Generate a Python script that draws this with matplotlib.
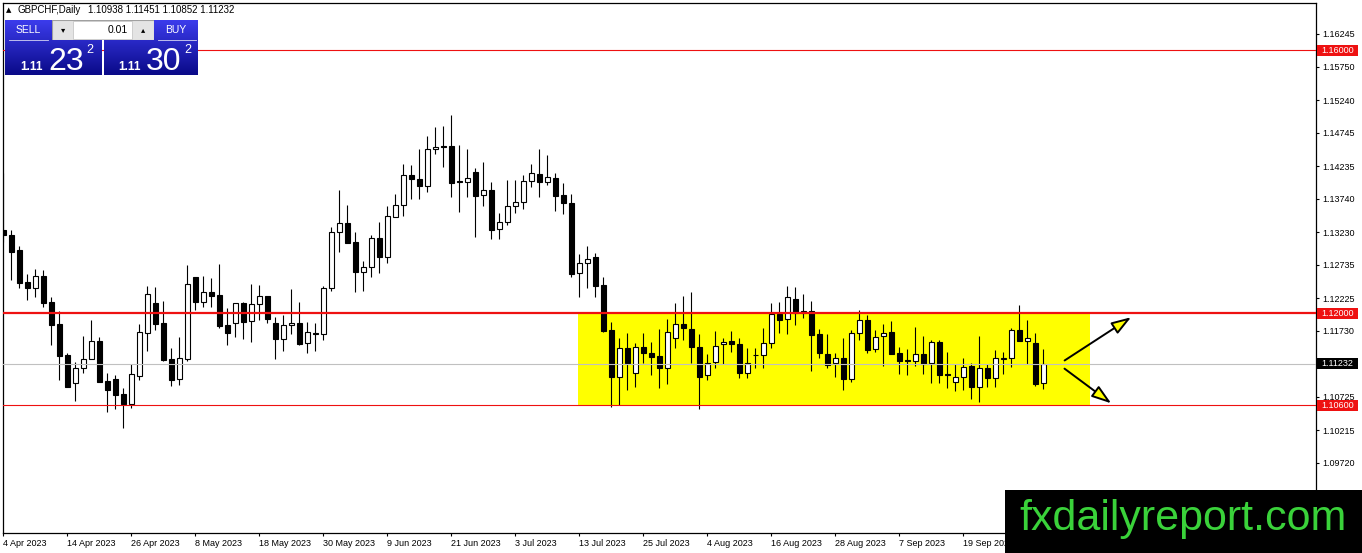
import matplotlib as mpl
mpl.use("agg")
import matplotlib.pyplot as plt
import matplotlib.patches as mpatches
import matplotlib.transforms as mtransforms
import numpy as np
import pandas as pd

W, H = 1362, 553

symbol = "GBPCHF,Daily"
first_day = "2023-04-04"

# daily candles, one per weekday from 4 Apr 2023
opens = [1.13264, 1.13188, 1.12960, 1.12473, 1.12382, 1.12564, 1.12169, 1.11834, 1.11362, 1.10937,
         1.11165, 1.11302, 1.11575, 1.10967, 1.10997, 1.10769, 1.10617, 1.11043, 1.11697, 1.12153,
         1.11849, 1.11302, 1.10997, 1.11302, 1.12549, 1.12169, 1.12321, 1.12275, 1.11819, 1.11849,
         1.12153, 1.11880, 1.12138, 1.12260, 1.11849, 1.11606, 1.11819, 1.11849, 1.11545, 1.11697,
         1.11682, 1.12382, 1.13233, 1.13370, 1.13081, 1.12625, 1.12701, 1.13142, 1.12853, 1.13461,
         1.13644, 1.14100, 1.14039, 1.13933, 1.14496, 1.14541, 1.14541, 1.14009, 1.13994, 1.14146,
         1.13796, 1.13872, 1.13279, 1.13385, 1.13629, 1.13690, 1.14009, 1.14115, 1.13994, 1.14055,
         1.13796, 1.13674, 1.12610, 1.12762, 1.12853, 1.12427, 1.11743, 1.11028, 1.11469, 1.11089,
         1.11484, 1.11393, 1.11347, 1.11165, 1.11621, 1.11834, 1.11758, 1.11484, 1.11058, 1.11256,
         1.11530, 1.11575, 1.11530, 1.11089, 1.11362, 1.11362, 1.11545, 1.11986, 1.11910, 1.12214,
         1.12001, 1.12032, 1.11682, 1.11378, 1.11241, 1.11317, 1.10997, 1.11697, 1.11895, 1.11454,
         1.11651, 1.11712, 1.11393, 1.11290, 1.11271, 1.11378, 1.11241, 1.11560, 1.11073, 1.10952,
         1.11028, 1.11195, 1.10876, 1.11165, 1.11013, 1.11302, 1.11317, 1.11743, 1.11575, 1.11545,
         1.10938]
highs = [1.14131, 1.13264, 1.13020, 1.12594, 1.12671, 1.12655, 1.12245, 1.12032, 1.11393, 1.11256,
         1.11651, 1.11895, 1.11636, 1.11089, 1.11058, 1.10861, 1.11226, 1.11834, 1.12412, 1.12397,
         1.12184, 1.11469, 1.11636, 1.12731, 1.12549, 1.12564, 1.12534, 1.12747, 1.12077, 1.12153,
         1.12169, 1.12442, 1.12427, 1.12260, 1.11940, 1.11971, 1.12366, 1.12169, 1.11864, 1.11849,
         1.12412, 1.13309, 1.13872, 1.13644, 1.13233, 1.12792, 1.13188, 1.13385, 1.13629, 1.13811,
         1.14268, 1.14252, 1.14496, 1.14693, 1.14830, 1.14846, 1.15013, 1.14557, 1.14496, 1.14207,
         1.14298, 1.13994, 1.13522, 1.14024, 1.14024, 1.14100, 1.14268, 1.14496, 1.14404, 1.14131,
         1.13979, 1.13811, 1.12899, 1.13020, 1.12914, 1.12549, 1.11864, 1.11621, 1.11697, 1.11545,
         1.11697, 1.11560, 1.11758, 1.11910, 1.12153, 1.12260, 1.12321, 1.11682, 1.11378, 1.11727,
         1.11621, 1.11727, 1.11621, 1.11469, 1.11469, 1.11773, 1.12153, 1.12169, 1.12412, 1.12397,
         1.12290, 1.12184, 1.11758, 1.11682, 1.11393, 1.11621, 1.11743, 1.12047, 1.11971, 1.11743,
         1.11834, 1.11880, 1.11484, 1.11454, 1.11788, 1.11651, 1.11591, 1.11591, 1.11408, 1.11226,
         1.11317, 1.11241, 1.11651, 1.11226, 1.11439, 1.11408, 1.11773, 1.12123, 1.11895, 1.11697,
         1.11451]
lows = [1.13081, 1.12503, 1.12382, 1.12199, 1.12245, 1.12093, 1.11515, 1.10982, 1.10876, 1.10663,
        1.11089, 1.11302, 1.10952, 1.10495, 1.10541, 1.10252, 1.10556, 1.10982, 1.11423, 1.11743,
        1.11271, 1.10891, 1.10906, 1.11271, 1.12047, 1.12093, 1.12093, 1.11773, 1.11515, 1.11636,
        1.11606, 1.11560, 1.11895, 1.11849, 1.11302, 1.11423, 1.11682, 1.11515, 1.11393, 1.11423,
        1.11591, 1.12336, 1.12929, 1.13066, 1.12321, 1.12336, 1.12549, 1.12610, 1.12762, 1.13461,
        1.13477, 1.13735, 1.13735, 1.13842, 1.14420, 1.14222, 1.13766, 1.13537, 1.13766, 1.13157,
        1.13629, 1.13127, 1.13127, 1.13340, 1.13522, 1.13583, 1.13918, 1.13766, 1.13948, 1.13553,
        1.13507, 1.12549, 1.12245, 1.12382, 1.12245, 1.11712, 1.10572, 1.10602, 1.10830, 1.10876,
        1.11241, 1.11058, 1.10861, 1.10921, 1.11469, 1.11591, 1.11241, 1.10541, 1.10982, 1.11165,
        1.11226, 1.11408, 1.11013, 1.11013, 1.11165, 1.11165, 1.11469, 1.11697, 1.11682, 1.11819,
        1.11925, 1.11119, 1.11317, 1.11165, 1.11028, 1.10830, 1.10952, 1.11591, 1.11393, 1.11408,
        1.11195, 1.11378, 1.11073, 1.11058, 1.11195, 1.11073, 1.10937, 1.10937, 1.10861, 1.10815,
        1.10830, 1.10693, 1.10648, 1.10876, 1.10876, 1.11073, 1.11180, 1.11575, 1.11226, 1.10891,
        1.10852]
closes = [1.13188, 1.12929, 1.12458, 1.12382, 1.12564, 1.12153, 1.11819, 1.11347, 1.10876, 1.11165,
          1.11302, 1.11575, 1.10952, 1.10830, 1.10754, 1.10617, 1.11073, 1.11712, 1.12290, 1.11834,
          1.11286, 1.10982, 1.11317, 1.12442, 1.12169, 1.12321, 1.12260, 1.11804, 1.11697, 1.12153,
          1.11864, 1.12138, 1.12260, 1.11910, 1.11606, 1.11819, 1.11849, 1.11530, 1.11712, 1.11682,
          1.12382, 1.13233, 1.13370, 1.13066, 1.12625, 1.12701, 1.13142, 1.12853, 1.13477, 1.13644,
          1.14100, 1.14039, 1.13933, 1.14496, 1.14526, 1.14526, 1.13979, 1.13994, 1.14055, 1.13781,
          1.13872, 1.13264, 1.13385, 1.13629, 1.13690, 1.14009, 1.14131, 1.13994, 1.14070, 1.13781,
          1.13674, 1.12594, 1.12762, 1.12823, 1.12412, 1.11727, 1.11028, 1.11469, 1.11241, 1.11484,
          1.11393, 1.11332, 1.11165, 1.11712, 1.11834, 1.11773, 1.11484, 1.11028, 1.11241, 1.11499,
          1.11560, 1.11530, 1.11089, 1.11241, 1.11360, 1.11545, 1.11986, 1.11895, 1.12245, 1.12001,
          1.12032, 1.11667, 1.11393, 1.11210, 1.11317, 1.10997, 1.11697, 1.11895, 1.11439, 1.11636,
          1.11697, 1.11378, 1.11271, 1.11275, 1.11378, 1.11226, 1.11560, 1.11058, 1.11058, 1.11028,
          1.11180, 1.10876, 1.11165, 1.11013, 1.11317, 1.11317, 1.11743, 1.11575, 1.11621, 1.10921,
          1.11232]

price_ticks = [1.16245, 1.15750, 1.15240, 1.14745, 1.14235, 1.13740, 1.13230, 1.12735,
               1.12225, 1.11730, 1.10725, 1.10215, 1.09720]
y_range = (1.08655, 1.16716)

upper_level = 1.16000
resistance = 1.12000
support = 1.10600
bid = 1.11232
zone_bars = (71.9, 135.9)          # bar index where the yellow box starts / ends
arrow_up = ((132.4, 1.11256), (141.3, 1.11960))
arrow_down = ((132.4, 1.11180), (138.8, 1.10602))

sell_price = ("1.11", "23", "2")
buy_price = ("1.11", "30", "2")
lot = "0.01"

RED = "#ee1111"
FONT = ["Liberation Sans", "DejaVu Sans"]


def fx(x):
    return x / W


def fy(y):
    return 1 - y / H


def gradient_box(fig, x0, y0, x1, y1, top, bottom):
    bax = fig.add_axes([fx(x0), fy(y1), fx(x1 - x0), (y1 - y0) / H])
    t = np.linspace(0, 1, 64)[:, None]
    c0, c1 = np.array(mpl.colors.to_rgb(top)), np.array(mpl.colors.to_rgb(bottom))
    img = c0[None, None, :] * (1 - t[:, :, None]) + c1[None, None, :] * t[:, :, None]
    bax.imshow(np.repeat(img, 4, axis=1), aspect="auto", interpolation="bilinear")
    bax.set_axis_off()
    return bax


def price_tag(ax, fig, value, face):
    blend = mtransforms.blended_transform_factory(fig.transFigure, ax.transData)
    per_px = (y_range[1] - y_range[0]) / 530.0
    h = 11 * per_px
    rect = mpatches.Rectangle((fx(1317), value - h / 2), fx(41), h, transform=blend,
                              facecolor=face, edgecolor="none", clip_on=False, zorder=20)
    ax.add_patch(rect)
    ax.text(fx(1337.5), value, "{:.5f}".format(value), transform=blend, ha="center",
            va="center", color="white", fontsize=6.5, family=FONT, clip_on=False, zorder=21)


def main():
    plt.rcParams["font.family"] = FONT
    n = len(closes)
    days = pd.bdate_range(first_day, periods=n)
    o, h, l, c = (np.array(v) for v in (opens, highs, lows, closes))
    idx = np.arange(n)

    fig = plt.figure(figsize=(W / 100, H / 100), dpi=100)
    fig.patch.set_facecolor("white")
    ax = fig.add_axes([fx(3), fy(533), fx(1313), 530 / H])
    ax.set_xlim(-0.05, 1313 / 8)
    ax.set_ylim(*y_range)

    # support/resistance zone
    ax.add_patch(mpatches.Rectangle((zone_bars[0], support), zone_bars[1] - zone_bars[0],
                                    resistance - support, facecolor="#ffff00",
                                    edgecolor="none", zorder=0))

    # candles
    up = c >= o
    ax.vlines(idx, l, h, color="black", linewidth=0.8, zorder=2)
    body_lo = np.minimum(o, c)
    body_h = np.abs(c - o)
    ax.bar(idx[up], body_h[up], bottom=body_lo[up], width=0.62, color="white",
           edgecolor="black", linewidth=0.8, zorder=3)
    ax.bar(idx[~up], body_h[~up], bottom=body_lo[~up], width=0.62, color="black",
           edgecolor="black", linewidth=0.8, zorder=3)

    # horizontal levels
    ax.axhline(bid, color="#c0c0c0", linewidth=0.8, zorder=4)
    ax.axhline(upper_level, color=RED, linewidth=0.8, zorder=4)
    ax.axhline(support, color=RED, linewidth=0.8, zorder=4)
    ax.axhline(resistance, color=RED, linewidth=1.6, zorder=4)

    # arrows
    for start, end in (arrow_up, arrow_down):
        arr = mpatches.FancyArrowPatch(start, end,
                                       arrowstyle="-|>,head_length=1.2,head_width=0.4",
                                       mutation_scale=10, facecolor="#ffff00",
                                       edgecolor="black", linewidth=1.4, zorder=6)
        ax.add_patch(arr)

    # axes
    for s in ax.spines.values():
        s.set_color("black")
        s.set_linewidth(0.9)
    ax.yaxis.tick_right()
    ax.set_yticks(price_ticks)
    ax.set_yticklabels(["{:.5f}".format(v) for v in price_ticks])
    ax.tick_params(axis="y", length=2.5, width=0.8, pad=2, labelsize=6.5, colors="black")
    ticks = list(range(0, n, 8))
    ax.set_xticks(ticks)
    ax.set_xticklabels(["{} {}".format(days[i].day, days[i].strftime("%b %Y")) for i in ticks],
                       ha="left")
    ax.tick_params(axis="x", length=2.5, width=0.8, pad=2, labelsize=6.5, colors="black")

    price_tag(ax, fig, upper_level, RED)
    price_tag(ax, fig, resistance, RED)
    price_tag(ax, fig, support, RED)
    price_tag(ax, fig, bid, "black")

    # header
    fig.text(fx(6), fy(10), "\u25b2", fontsize=5, family=["DejaVu Sans"], va="center")
    fig.text(fx(18), fy(10), symbol, fontsize=7, va="center")
    fig.text(fx(88), fy(10), "{:.5f} {:.5f} {:.5f} {:.5f}".format(opens[-1], highs[-1],
             lows[-1], closes[-1]), fontsize=7, va="center")

    # one click trading panel
    gradient_box(fig, 5, 20, 101, 75, "#3c3cec", "#0a0a88")
    gradient_box(fig, 104, 20, 198, 75, "#3c3cec", "#0a0a88")
    spin = fig.add_axes([fx(52), fy(40), fx(102), 20 / H])
    spin.set_xlim(52, 154)
    spin.set_ylim(40, 20)
    spin.add_patch(mpatches.Rectangle((52, 20), 102, 20, facecolor="#e4e4e4", edgecolor="#a0a0a0", lw=0.8))
    spin.add_patch(mpatches.Rectangle((73, 21), 59, 18, facecolor="white", edgecolor="#c8c8c8", lw=0.6))
    spin.text(63, 30, "\u25be", ha="center", va="center", fontsize=6, family=["DejaVu Sans"])
    spin.text(143, 30, "\u25b4", ha="center", va="center", fontsize=6, family=["DejaVu Sans"])
    spin.text(128, 30, lot, ha="right", va="center", fontsize=7.5)
    spin.set_axis_off()

    for x0, x1 in ((9, 48), (158, 196)):
        fig.add_artist(plt.Line2D([fx(x0), fx(x1)], [fy(40), fy(40)], color="white",
                                  linewidth=0.6, alpha=0.8, zorder=30))
    fig.text(fx(28), fy(30), "SELL", color="white", fontsize=7.5, ha="center", va="center", zorder=31)
    fig.text(fx(176), fy(30), "BUY", color="white", fontsize=7.5, ha="center", va="center", zorder=31)
    for (big, mid, small), x0 in ((sell_price, 20), (buy_price, 118)):
        fig.text(fx(x0), fy(70), big, color="white", fontsize=8.5, fontweight="bold",
                 ha="left", va="baseline", zorder=31)
        fig.text(fx(x0 + 28), fy(70), mid, color="white", fontsize=23, ha="left",
                 va="baseline", zorder=31)
        fig.text(fx(x0 + 66), fy(53), small, color="white", fontsize=9, ha="left",
                 va="baseline", zorder=31)

    # watermark
    fig.add_artist(mpatches.Rectangle((fx(1005), 0), fx(W - 1005), (H - 490) / H,
                                      transform=fig.transFigure, facecolor="black",
                                      edgecolor="none", zorder=40))
    fig.text(fx(1183), fy(519), "fxdailyreport.com", color="#3ad23a", fontsize=31,
             ha="center", va="center", zorder=41)

    fig.savefig("out.png", dpi=100)


if __name__ == "__main__":
    main()
